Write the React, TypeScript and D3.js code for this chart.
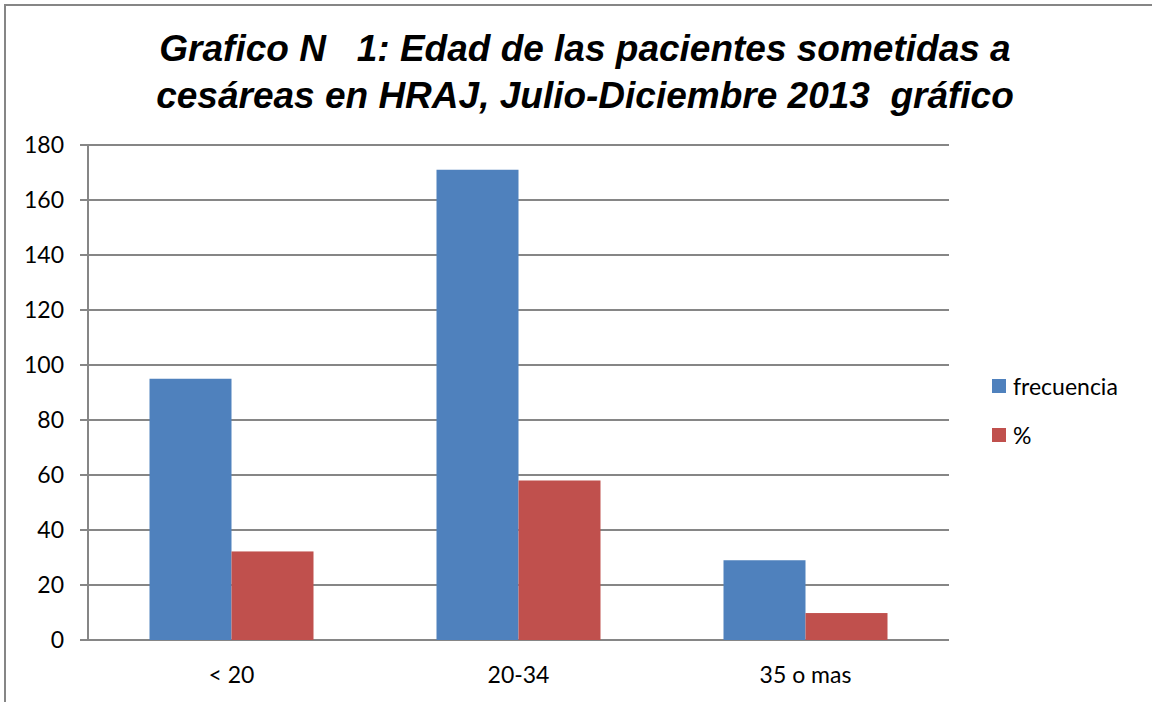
import React from "react";
import * as d3 from "d3";

const categories = ["< 20", "20-34", "35 o mas"];
const frecuencia = [95, 171, 29];
const porcentaje = [32.2, 58.0, 9.8];
const yTicks = [0, 20, 40, 60, 80, 100, 120, 140, 160, 180];
const seriesNames = ["frecuencia", "%"];
const colors = ["#4F81BD", "#C0504D"];
const titleLines = [
  "Grafico N   1: Edad de las pacientes sometidas a",
  "cesáreas en HRAJ, Julio-Diciembre 2013  gráfico",
];

export default function App() {
  const W = 1152, H = 702;
  const left = 88, right = 949, top = 145, bottom = 640;
  const x = d3.scaleBand<string>().domain(categories).range([left, right]).paddingInner(0).paddingOuter(0);
  const y = d3.scaleLinear().domain([0, 180]).range([bottom, top]);
  const inner = d3.scaleBand<string>().domain(seriesNames).range([0, x.bandwidth()]).paddingInner(0).paddingOuter(0.75);
  const series = [frecuencia, porcentaje];
  const tickFont = "Lato, 'Open Sans', sans-serif";
  return (
    <svg width={W} height={H} style={{ position: "absolute", left: 0, top: 0, background: "#fff" }}>
      <rect x={5} y={5} width={W + 10} height={H + 10} fill="#fff" stroke="#868686" strokeWidth={2} />
      {titleLines.map((t, i) => (
        <text key={i} x={585} y={61 + i * 47} textAnchor="middle" fontFamily="'Liberation Sans', Arial, sans-serif"
          fontWeight="bold" fontStyle="italic" fontSize={37} fill="#000" style={{ whiteSpace: "pre" }}>{t}</text>
      ))}
      {yTicks.map((v) => (
        <g key={v}>
          <line x1={80} x2={right} y1={y(v)} y2={y(v)} stroke="#868686" strokeWidth={2} />
          <text x={64} y={y(v) + 8} textAnchor="end" fontFamily={tickFont} fontSize={23} fill="#000">{v}</text>
        </g>
      ))}
      <line x1={left} x2={left} y1={top} y2={bottom} stroke="#868686" strokeWidth={2} />
      {categories.map((c, ci) => (
        <g key={c}>
          {series.map((s, si) => (
            <rect key={si} x={(x(c) as number) + (inner(seriesNames[si]) as number)} y={y(s[ci])}
              width={inner.bandwidth()} height={bottom - y(s[ci])} fill={colors[si]} />
          ))}
          <text x={(x(c) as number) + x.bandwidth() / 2} y={683} textAnchor="middle" fontFamily={tickFont} fontSize={23} fill="#000" style={{ whiteSpace: "pre" }}>{c}</text>
        </g>
      ))}
      {seriesNames.map((n, i) => (
        <g key={n}>
          <rect x={992} y={379 + i * 49} width={14} height={14} fill={colors[i]} />
          <text x={1013} y={395 + i * 49} fontFamily={tickFont} fontSize={23} fill="#000">{n}</text>
        </g>
      ))}
    </svg>
  );
}
